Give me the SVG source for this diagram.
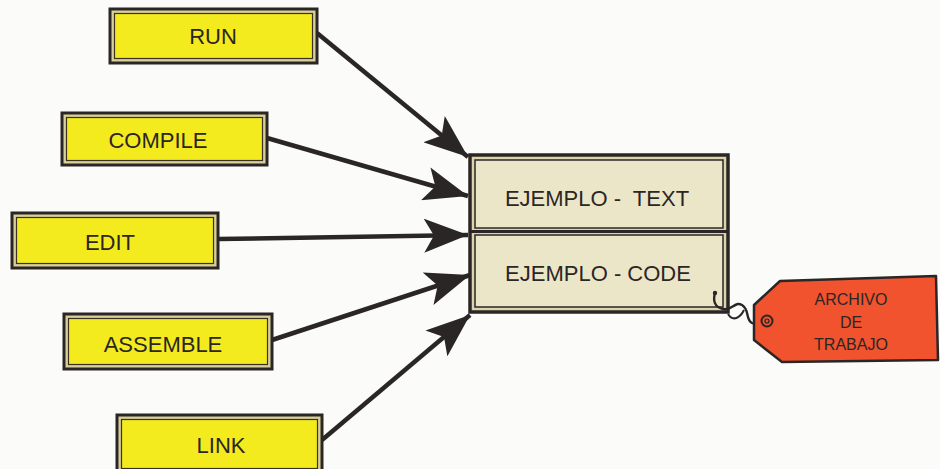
<svg xmlns="http://www.w3.org/2000/svg" width="940" height="469" viewBox="0 0 940 469">
<defs>
<style>
.yo{fill:#d9cf98;stroke:#2b2626;stroke-width:3}
.yi{fill:#f3eb1e;stroke:#3a3124;stroke-width:1.2}
.lbl{font-family:"Liberation Sans",Arial,sans-serif;font-size:22px;fill:#2b2626;text-anchor:middle}
.tg{font-family:"Liberation Sans",Arial,sans-serif;font-size:16px;fill:#2b2626;text-anchor:middle}
.cn{stroke:#2b2626;stroke-width:4.5;fill:none;marker-end:url(#ah)}
</style>
<marker id="ah" markerUnits="userSpaceOnUse" markerWidth="46" markerHeight="34" viewBox="0 0 46 34" refX="44" refY="17" orient="auto">
<path d="M0,0 L44,17 L0,34 L10,17 Z" fill="#2b2626"/>
</marker>
</defs>
<rect width="940" height="469" fill="#fbfbf9"/>
<g id="connectors">
<line class="cn" x1="317" y1="33" x2="468" y2="157"/>
<line class="cn" x1="267" y1="138" x2="468" y2="196"/>
<line class="cn" x1="218" y1="239" x2="468" y2="235"/>
<line class="cn" x1="272" y1="340" x2="470" y2="275"/>
<line class="cn" x1="322" y1="440" x2="470" y2="315"/>
</g>
<g id="run">
<rect class="yo" x="110" y="9" width="207" height="54"/>
<rect class="yi" x="114.5" y="13.5" width="198" height="45"/>
<text class="lbl" x="213" y="44">RUN</text>
</g>
<g id="compile">
<rect class="yo" x="62" y="113" width="205" height="52"/>
<rect class="yi" x="66.5" y="117.5" width="196" height="43"/>
<text class="lbl" x="158" y="148">COMPILE</text>
</g>
<g id="edit">
<rect class="yo" x="12" y="213" width="206" height="55"/>
<rect class="yi" x="16.5" y="217.5" width="197" height="46"/>
<text class="lbl" x="110" y="250">EDIT</text>
</g>
<g id="assemble">
<rect class="yo" x="64" y="314" width="208" height="55"/>
<rect class="yi" x="68.5" y="318.5" width="199" height="46"/>
<text class="lbl" x="163" y="352">ASSEMBLE</text>
</g>
<g id="link">
<rect class="yo" x="117" y="415" width="205" height="58"/>
<rect class="yi" x="121.5" y="419.5" width="196" height="49"/>
<text class="lbl" x="221" y="453">LINK</text>
</g>
<g id="ejemplo">
<rect x="470" y="155" width="258" height="157" fill="#dcd5ac" stroke="#2b2626" stroke-width="3.5"/>
<rect x="475" y="160" width="248" height="68" fill="#ebe6c8" stroke="#2b2626" stroke-width="1.5"/>
<rect x="475" y="235" width="248" height="72" fill="#ebe6c8" stroke="#2b2626" stroke-width="1.5"/>
<line x1="470" y1="231.5" x2="728" y2="231.5" stroke="#2b2626" stroke-width="3"/>
<text class="lbl" x="597" y="206" xml:space="preserve" style="white-space:pre">EJEMPLO -  TEXT</text>
<text class="lbl" x="598" y="281">EJEMPLO - CODE</text>
</g>
<g id="archivo">
<circle cx="715" cy="293" r="2.2" fill="#2b2626"/>
<path d="M715,293 C713,300 714,307 723,309 C733,311 734,301 742,305 C750,310 745,319 752,323 C758,326 762,319 767,321" fill="none" stroke="#2b2626" stroke-width="2.4"/>
<path d="M744,310 C740,318 733,322 728,314" fill="none" stroke="#2b2626" stroke-width="2"/>
<polygon points="780,281 936,276 938,360 782,362 754,340 754,305" fill="#f0532d" stroke="#2b2626" stroke-width="2.5" stroke-linejoin="round"/>
<circle cx="767" cy="321" r="5.5" fill="#f0532d" stroke="#2b2626" stroke-width="2"/>
<circle cx="767" cy="321" r="2" fill="none" stroke="#2b2626" stroke-width="1.2"/>
<text class="tg" x="851" y="305">ARCHIVO</text>
<text class="tg" x="851" y="328">DE</text>
<text class="tg" x="851" y="350">TRABAJO</text>
</g>
</svg>
